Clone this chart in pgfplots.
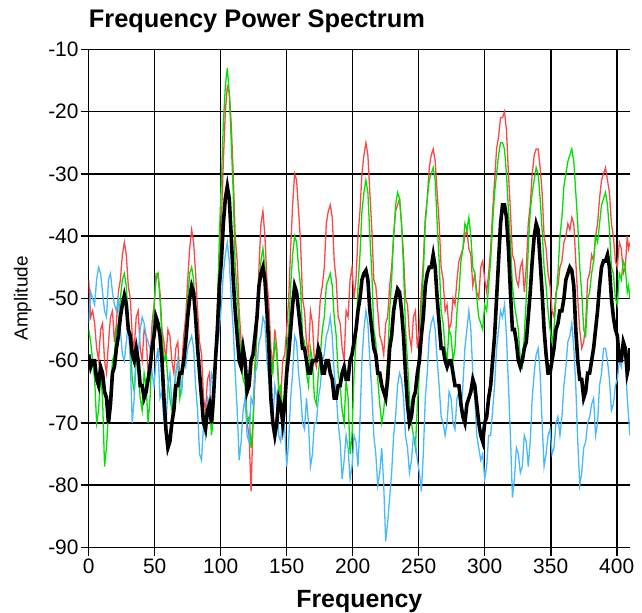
\documentclass[border=0pt]{standalone}
\usepackage{fontspec}
\setmainfont{Liberation Sans}
\usepackage{pgfplots}
\usepackage{pgfplotstable}
\pgfplotsset{compat=1.18}
\definecolor{sred}{RGB}{255,70,70}
\definecolor{sgreen}{RGB}{0,225,0}
\definecolor{sblue}{RGB}{70,185,255}
\pgfplotstableread{
f r g b k
0 -47 -55 -54 -59
1.5 -53 -57 -49 -61
3 -52 -60 -50 -60
4.5 -54 -63 -51 -60
6 -58 -70 -47 -63
7.5 -60 -68 -45 -64
9 -55 -62 -46 -61
10.5 -54 -66 -49 -62
12 -60 -77 -52 -65
13.5 -62 -74 -53 -66
15 -57 -68 -47 -70
16.5 -53 -65 -46 -67
18 -52 -60 -49 -62
19.5 -57 -59 -51 -61
21 -54 -55 -52 -58
22.5 -49 -54 -50 -56
24 -47 -50 -55 -53
25.5 -43 -47 -59 -51
27 -41 -46 -60 -49.5
28.5 -43 -48 -57 -51
30 -48 -54 -54 -55
31.5 -50 -57 -60 -56
33 -56 -63 -70 -59
34.5 -58 -65 -66 -60
36 -53 -60 -58 -58
37.5 -52 -61 -59 -60
39 -58 -66 -55 -64
40.5 -60 -68 -53 -64
42 -55 -62 -54 -66
43.5 -56 -64 -56 -65
45 -62 -70 -57 -63
46.5 -60 -66 -58 -61
48 -54 -58 -62 -58
49.5 -51 -52 -64 -56
51 -47 -46 -60 -53
52.5 -46 -46 -58 -54
54 -49 -50 -66 -56
55.5 -55 -56 -65 -60
57 -57 -60 -70 -66
58.5 -60 -59 -71 -71
60 -55 -63 -64 -74
61.5 -56 -66 -62 -73
63 -60 -68 -67 -70
64.5 -62 -65 -66 -68
66 -58 -62 -62 -64
67.5 -57 -60 -60 -64
69 -63 -66 -63 -62
70.5 -61 -64 -65 -62
72 -56 -60 -60 -60
73.5 -53 -56 -61 -57
75 -47 -50 -58 -53
76.5 -42 -46 -57 -50
78 -39 -45 -56 -48
79.5 -41 -47 -58 -49
81 -46 -53 -64 -53
82.5 -52 -58 -68 -58
84 -57 -63 -75 -62
85.5 -59 -65 -76 -66
87 -66 -70 -70 -70
88.5 -68 -72 -72 -71
90 -63 -67 -66 -68
91.5 -62 -66 -67 -67
93 -68 -72 -62 -70
94.5 -65 -69 -63 -66
96 -58 -60 -60 -60
97.5 -52 -52 -58 -55
99 -44 -40 -55 -48
100.5 -38 -31 -51 -44
102 -28 -22 -46 -38
103.5 -20 -16 -43 -34
105 -16 -13 -41 -32
106.5 -17 -17 -44 -34
108 -22 -25 -50 -40
109.5 -30 -33 -55 -47
111 -40 -45 -62 -52
112.5 -44 -49 -68 -56
114 -52 -55 -76 -60
115.5 -57 -60 -73 -61
117 -60 -63 -68 -58
118.5 -62 -64 -66 -60
120 -70 -70 -72 -65
121.5 -72 -69 -73 -64
123 -81 -74 -66 -60
124.5 -70 -70 -67 -59
126 -63 -60 -62 -56
127.5 -55 -55 -61 -53
129 -45 -48 -57 -48
130.5 -38 -44 -56 -46
132 -36 -42 -53 -45
133.5 -40 -45 -54 -47
135 -47 -52 -60 -52
136.5 -51 -54 -63 -58
138 -58 -60 -68 -66
139.5 -61 -62 -70 -70
141 -55 -57 -64 -72
142.5 -58 -59 -66 -70
144 -64 -65 -72 -66
145.5 -66 -64 -73 -67
147 -60 -68 -68 -70
148.5 -59 -65 -71 -67
150 -55 -58 -77 -62
151.5 -50 -55 -73 -59
153 -42 -48 -66 -55
154.5 -35 -43 -62 -51
156 -30 -40 -56 -48
157.5 -31 -41 -57 -49
159 -36 -45 -62 -52
160.5 -41 -48 -65 -55
162 -50 -56 -70 -58
163.5 -52 -57 -71 -58
165 -57 -62 -66 -60
166.5 -59 -64 -70 -62
168 -52 -58 -77 -62
169.5 -54 -60 -75 -60
171 -60 -66 -70 -60
172.5 -61 -67 -70 -60
174 -55 -62 -66 -58
175.5 -50 -59 -64 -59
177 -48 -55 -60 -62
178.5 -45 -53 -59 -62
180 -38 -48 -56 -60
181.5 -36 -47 -55 -60
183 -35 -46 -53 -62
184.5 -37 -48 -56 -63
186 -44 -53 -62 -66
187.5 -47 -56 -65 -66
189 -53 -62 -70 -64
190.5 -54 -64 -73 -64
192 -58 -68 -79 -62
193.5 -60 -70 -76 -61
195 -52 -63 -72 -63
196.5 -53 -66 -74 -63
198 -47 -75 -79 -60
199.5 -45 -72 -77 -59
201 -50 -62 -72 -57
202.5 -47 -57 -73 -55
204 -40 -48 -77 -52
205.5 -36 -43 -70 -50
207 -30 -36 -60 -47
208.5 -27 -33 -55 -46
210 -25 -31 -52 -45.5
211.5 -27 -33 -54 -47
213 -33 -40 -60 -52
214.5 -39 -46 -65 -55
216 -47 -55 -72 -58
217.5 -48 -57 -75 -59
219 -52 -63 -80 -62
220.5 -56 -67 -78 -62
222 -57 -70 -74 -64
223.5 -59 -68 -80 -65
225 -54 -64 -89 -66
226.5 -53 -60 -86 -63
228 -48 -52 -82 -58
229.5 -45 -47 -78 -56
231 -40 -40 -72 -52
232.5 -36 -35 -69 -50
234 -35 -33 -64 -48.5
235.5 -34 -34 -62 -49
237 -38 -38 -63 -52
238.5 -43 -45 -66 -56
240 -50 -55 -72 -62
241.5 -51 -60 -74 -67
243 -56 -66 -78 -70
244.5 -58 -70 -76 -69
246 -53 -72 -72 -66
247.5 -52 -74 -73 -65
249 -58 -67 -76 -62
250.5 -55 -62 -78 -60
252 -49 -52 -81 -56
253.5 -44 -46 -75 -53
255 -37 -38 -66 -48
256.5 -34 -34 -62 -46
258 -29 -31 -56 -45
259.5 -27 -30 -54 -45
261 -26 -29 -53 -43
262.5 -28 -31 -55 -45
264 -33 -38 -60 -50
265.5 -38 -44 -64 -54
267 -45 -52 -69 -58
268.5 -47 -54 -70 -58
270 -52 -58 -72 -60
271.5 -51 -60 -70 -61
273 -55 -55 -65 -60
274.5 -54 -56 -66 -60
276 -50 -60 -70 -62
277.5 -51 -58 -71 -64
279 -47 -52 -66 -64
280.5 -44 -49 -65 -64
282 -43 -44 -68 -67
283.5 -42 -42 -64 -69
285 -40 -38 -58 -70
286.5 -39 -39 -55 -67
288 -42 -37 -52 -66
289.5 -43 -40 -55 -65
291 -48 -45 -62 -63
292.5 -46 -46 -66 -64
294 -49 -50 -72 -67
295.5 -50 -53 -74 -70
297 -45 -54 -76 -72
298.5 -44 -55 -75 -73
300 -47 -51 -79 -70
301.5 -49 -52 -77 -69
303 -46 -48 -72 -66
304.5 -42 -44 -72 -64
306 -36 -38 -68 -60
307.5 -31 -33 -64 -56
309 -26 -30 -58 -50
310.5 -24 -27 -55 -44
312 -21 -25 -52 -38
313.5 -21 -25 -53 -35
315 -20 -26 -51 -35
316.5 -23 -30 -56 -37
318 -30 -36 -64 -42
319.5 -36 -41 -72 -49
321 -43 -48 -82 -55
322.5 -44 -51 -79 -55
324 -47 -53 -74 -57
325.5 -48 -55 -75 -60
327 -45 -60 -78 -61
328.5 -44 -61 -77 -60
330 -49 -56 -72 -58
331.5 -45 -50 -73 -57
333 -38 -42 -77 -53
334.5 -35 -36 -73 -49
336 -30 -33 -66 -44
337.5 -27 -31 -62 -40
339 -26 -29 -59 -38
340.5 -26 -30 -58 -39
342 -29 -34 -62 -44
343.5 -33 -39 -70 -49
345 -40 -45 -77 -55
346.5 -42 -48 -75 -59
348 -46 -52 -72 -62
349.5 -48 -55 -71 -62
351 -52 -57 -75 -60
352.5 -53 -55 -74 -58
354 -49 -50 -70 -55
355.5 -48 -46 -69 -54
357 -45 -40 -72 -52
358.5 -44 -37 -69 -52
360 -41 -32 -64 -50
361.5 -40 -30 -61 -47
363 -38 -28 -57 -46
364.5 -39 -27 -56 -45
366 -37 -26 -54 -45.5
367.5 -38 -28 -58 -48
369 -44 -33 -64 -55
370.5 -50 -38 -73 -60
372 -55 -45 -80 -63
373.5 -58 -49 -78 -63
375 -57 -55 -74 -66
376.5 -54 -56 -73 -65
378 -47 -50 -70 -62
379.5 -46 -49 -69 -62
381 -43 -46 -67 -60
382.5 -44 -44 -66 -58
384 -40 -40 -72 -55
385.5 -38 -41 -70 -52
387 -34 -38 -64 -48
388.5 -31 -35 -62 -45
390 -30 -34 -58 -44
391.5 -29 -33 -58 -44
393 -31 -35 -60 -43
394.5 -33 -39 -63 -45
396 -38 -45 -68 -50
397.5 -40 -46 -67 -53
399 -44 -50 -64 -55
400.5 -45 -51 -63 -56
402 -41 -46 -60 -60
403.5 -42 -47 -61 -60
405 -46 -44 -58 -57
406.5 -45 -45 -60 -58
408 -40 -49 -66 -62
409 -42 -48 -69 -61
410 -41 -50 -72 -58
}\spec
\begin{document}
\begin{tikzpicture}
\path[use as bounding box] (-88.7bp,-65.5bp) rectangle (553.3bp,547.5bp);
\begin{axis}[
  at={(0,0)}, anchor=south west,
  scale only axis, width=541.2bp, height=498.2bp,
  xmin=0, xmax=410, ymin=-90, ymax=-10,
  xtick={0,50,...,400}, ytick={-90,-80,...,-10},
  axis lines=left, axis line style={-, line width=1.6bp, black},
  grid=major, major grid style={black, line width=1.6bp},
  tick align=outside, major tick length=8bp,
  tick style={black, line width=1.6bp},
  /pgf/number format/assume math mode=true,
  ticklabel style={font=\fontsize{21}{21}\selectfont},
  xticklabel style={inner sep=3pt},
  yticklabel style={inner sep=2pt},
  title={Frequency Power Spectrum},
  title style={at={(axis description cs:0,1)}, anchor=base west, inner sep=0pt, yshift=16bp, font=\bfseries\fontsize{25.5}{25.5}\selectfont},
  xlabel={Frequency},
  xlabel style={at={(axis description cs:0.5,0)}, anchor=base, inner sep=0pt, yshift=-59.5bp, font=\bfseries\fontsize{25}{25}\selectfont},
  ylabel={Amplitude},
  ylabel style={at={(axis description cs:0,0.5)}, anchor=center, inner sep=0pt, yshift=66bp, font=\fontsize{19}{19}\selectfont},
]
\addplot[sred, line width=1.3bp] table[x=f,y=r]{\spec};
\addplot[sgreen, line width=1.3bp] table[x=f,y=g]{\spec};
\addplot[sblue, line width=1.3bp] table[x=f,y=b]{\spec};
\addplot[black, line width=3.6bp] table[x=f,y=k]{\spec};
\end{axis}
\end{tikzpicture}
\end{document}
